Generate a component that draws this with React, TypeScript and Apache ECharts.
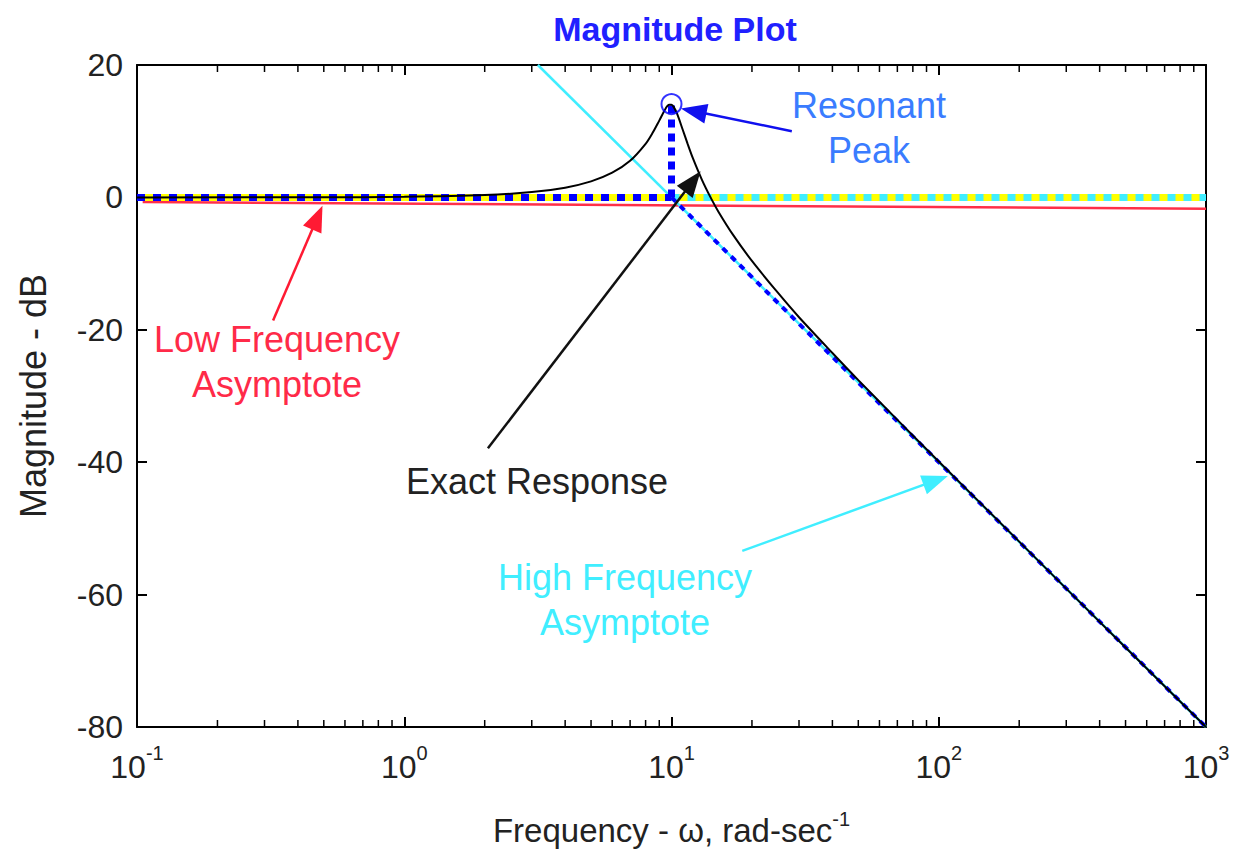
import React, { useEffect, useRef } from "react";
import * as echarts from "echarts";

const FONT = '"Liberation Sans", Arial, sans-serif';

// Exact response
const exactFreq = [0.1, 0.5, 1, 2, 3, 4, 5, 6, 7, 8, 8.5, 9, 9.5, 9.8, 10, 10.2, 10.5, 11, 11.5, 12, 13, 14, 15, 17, 20, 25, 30, 40, 50, 70, 100, 200, 300, 500, 1000];
const exactMag = [0, 0.02, 0.09, 0.35, 0.8, 1.47, 2.42, 3.73, 5.53, 8.09, 9.75, 11.6, 13.4, 13.98, 13.98, 13.64, 12.6, 10.3, 8.04, 6.0, 2.65, 0.0, -2.2, -5.67, -9.6, -14.4, -18.1, -23.5, -27.6, -33.6, -39.9, -52.0, -59.1, -68.0, -80.0];

// Asymptotes
const lowAsymFreq = [0.1, 10];
const lowAsymMag = [0, 0];
const flatFreq = [0.1, 1000];
const flatMag = [0, 0];
const hiFlatFreq = [10, 1000];
const hiFlatMag = [0, 0];
const highAsymFreq = [3.1623, 1000];
const highAsymMag = [20, -80];
const highDashFreq = [10, 1000];
const highDashMag = [0, -80];
const peakLineFreq = [10, 10];
const peakLineMag = [0, 14];
const redFreq = [0.105, 1000];
const redMag = [-0.7, -1.7];
const peakPoint = [10, 14.1];

const minorTicks = [0.2, 0.3, 0.4, 0.5, 0.6, 0.7, 0.8, 0.9, 2, 3, 4, 5, 6, 7, 8, 9, 20, 30, 40, 50, 60, 70, 80, 90, 200, 300, 400, 500, 600, 700, 800, 900];

// Annotation arrows [tailFreq, tailMag, headFreq, headMag]
const arrowResonant = [28.2, 10.0, 12.1, 13.04];
const arrowLow = [0.323, -18.6, 0.473, -3.05];
const arrowExact = [2.056, -37.9, 12.0, 2.4];
const arrowHigh = [18.4, -53.4, 97.4, -42.74];

const zip = (a: number[], b: number[]) => a.map((v, i) => [v, b[i]]);

export default function App() {
  const ref = useRef<HTMLDivElement>(null);
  useEffect(() => {
    const chart = echarts.init(ref.current!, null, { renderer: "svg" });
    const axisLine = { show: true, onZero: false, lineStyle: { color: "#000", width: 2 } };
    const axisTick = { show: true, inside: true, length: 10, lineStyle: { color: "#000", width: 2 } };
    const arrow = (a: number[], color: string) => [
      { coord: [a[0], a[1]], symbol: "none", lineStyle: { color, width: 2.5, type: "solid" } },
      { coord: [a[2], a[3]], symbol: "triangle", symbolSize: [20, 26] },
    ];
    const lineBase = { type: "line", showSymbol: false, symbol: "none", silent: true, xAxisIndex: 0, yAxisIndex: 0 };
    chart.setOption({
      animation: false,
      title: {
        text: "Magnitude Plot",
        left: 670,
        textAlign: "center",
        top: 7,
        textStyle: { fontFamily: FONT, fontSize: 34, fontWeight: "bold", color: "#2020ff" },
      },
      grid: { left: 137, right: 28, top: 65, bottom: 119 },
      xAxis: [
        {
          type: "log",
          logBase: 10,
          min: 0.1,
          max: 1000,
          position: "bottom",
          axisLine,
          axisTick,
          splitLine: { show: false },
          axisLabel: {
            margin: 16,
            formatter: (v: number) => `{b|10}{s|${Math.round(Math.log10(v))}}`,
            rich: {
              b: { fontFamily: FONT, fontSize: 32, color: "#222", lineHeight: 40, verticalAlign: "bottom" },
              s: { fontFamily: FONT, fontSize: 20, color: "#222", lineHeight: 40, verticalAlign: "top" },
            },
          },
          name: "{n|Frequency - ω, rad-sec}{s|-1}",
          nameLocation: "middle",
          nameGap: 82,
          nameTextStyle: {
            rich: {
              n: { fontFamily: FONT, fontSize: 33, color: "#222", lineHeight: 38, verticalAlign: "bottom" },
              s: { fontFamily: FONT, fontSize: 20, color: "#222", lineHeight: 38, verticalAlign: "top" },
            },
          },
        },
        {
          type: "log",
          logBase: 10,
          min: 0.1,
          max: 1000,
          position: "top",
          axisLine,
          axisTick,
          splitLine: { show: false },
          axisLabel: { show: false },
        },
      ],
      yAxis: [
        {
          type: "value",
          min: -80,
          max: 20,
          interval: 20,
          position: "left",
          axisLine,
          axisTick,
          splitLine: { show: false },
          axisLabel: { margin: 14, fontFamily: FONT, fontSize: 32, color: "#222" },
          name: "Magnitude - dB",
          nameLocation: "middle",
          nameGap: 86,
          nameRotate: 90,
          nameTextStyle: { fontFamily: FONT, fontSize: 36, color: "#222" },
        },
        {
          type: "value",
          min: -80,
          max: 20,
          interval: 20,
          position: "right",
          axisLine,
          axisTick,
          splitLine: { show: false },
          axisLabel: { show: false },
        },
      ],
      graphic: [
        {
          type: "text",
          x: 869,
          y: 128,
          style: { text: "Resonant\nPeak", fill: "#3a7cff", fontFamily: FONT, fontSize: 36, lineHeight: 45, align: "center", verticalAlign: "middle" },
        },
        {
          type: "text",
          x: 277,
          y: 362,
          style: { text: "Low Frequency\nAsymptote", fill: "#ff2a48", fontFamily: FONT, fontSize: 36, lineHeight: 45, align: "center", verticalAlign: "middle" },
        },
        {
          type: "text",
          x: 537,
          y: 481,
          style: { text: "Exact Response", fill: "#222", fontFamily: FONT, fontSize: 36, align: "center", verticalAlign: "middle" },
        },
        {
          type: "text",
          x: 625,
          y: 600,
          style: { text: "High Frequency\nAsymptote", fill: "#40eeff", fontFamily: FONT, fontSize: 36, lineHeight: 45, align: "center", verticalAlign: "middle" },
        },
      ],
      series: [
        {
          type: "custom",
          silent: true,
          xAxisIndex: 0,
          yAxisIndex: 0,
          data: minorTicks.map((f) => [f, -80]),
          renderItem: (_p: any, api: any) => {
            const f = api.value(0);
            const b = api.coord([f, -80]);
            const t = api.coord([f, 20]);
            return {
              type: "group",
              children: [
                { type: "line", shape: { x1: b[0], y1: b[1], x2: b[0], y2: b[1] - 7 }, style: { stroke: "#000", lineWidth: 1.5 } },
                { type: "line", shape: { x1: t[0], y1: t[1], x2: t[0], y2: t[1] + 7 }, style: { stroke: "#000", lineWidth: 1.5 } },
              ],
            };
          },
        },
        { ...lineBase, name: "red", data: zip(redFreq, redMag), clip: false, lineStyle: { color: "#ff3048", width: 2.5 } },
        { ...lineBase, name: "yellow", data: zip(flatFreq, flatMag), lineStyle: { color: "#ffff00", width: 7 } },
        { ...lineBase, name: "hiAsym", data: zip(highAsymFreq, highAsymMag), lineStyle: { color: "#40eeff", width: 2.5 } },
        { ...lineBase, name: "lowDot", data: zip(lowAsymFreq, lowAsymMag), lineStyle: { color: "#0000ff", width: 7, type: [8, 8] } },
        { ...lineBase, name: "hiDot", data: zip(hiFlatFreq, hiFlatMag), lineStyle: { color: "#40eeff", width: 7, type: [8, 8] } },
        { ...lineBase, name: "peakDot", data: zip(peakLineFreq, peakLineMag), lineStyle: { color: "#0000ff", width: 7, type: [8, 6] } },
        { ...lineBase, name: "hiDash", data: zip(highDashFreq, highDashMag), lineStyle: { color: "#0000ff", width: 4, type: [6, 6] } },
        { ...lineBase, name: "exact", data: zip(exactFreq, exactMag), smooth: 0.3, lineStyle: { color: "#000", width: 2 } },
        {
          type: "scatter",
          silent: true,
          xAxisIndex: 0,
          yAxisIndex: 0,
          data: [peakPoint],
          symbol: "circle",
          symbolSize: 20,
          itemStyle: { color: "rgba(0,0,0,0)", borderColor: "#0000ff", borderWidth: 2 },
          z: 5,
        },
        {
          ...lineBase,
          name: "arrows",
          data: [],
          markLine: {
            silent: true,
            animation: false,
            label: { show: false },
            emphasis: { disabled: true },
            data: [
              arrow(arrowResonant, "#1010ee"),
              arrow(arrowLow, "#ff1a33"),
              arrow(arrowExact, "#111111"),
              arrow(arrowHigh, "#40eeff"),
            ],
          },
        },
      ],
    });
    return () => chart.dispose();
  }, []);
  return <div ref={ref} style={{ position: "fixed", left: 0, top: 0, width: 1234, height: 852, background: "#fff" }} />;
}
